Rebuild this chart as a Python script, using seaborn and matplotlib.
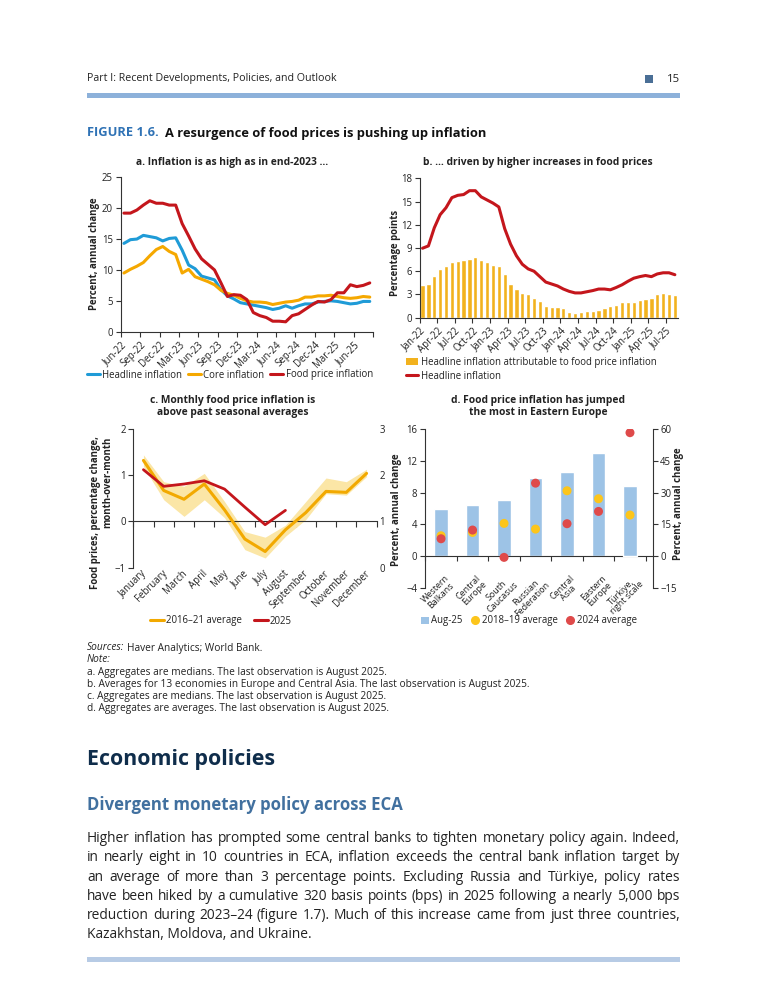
import numpy as np
import pandas as pd
import matplotlib
matplotlib.use("Agg")
import matplotlib.pyplot as plt
import matplotlib.transforms as mtrans
from matplotlib.lines import Line2D
from matplotlib.patches import Patch, Rectangle
import seaborn as sns

# ---------------- data ----------------
a_tick_labels = ["Jun-22", "Sep-22", "Dec-22", "Mar-23", "Jun-23", "Sep-23", "Dec-23",
                 "Mar-24", "Jun-24", "Sep-24", "Dec-24", "Mar-25", "Jun-25"]
a_headline = [14.3, 14.9, 15.0, 15.6, 15.4, 15.2, 14.7, 15.1, 15.2, 13.2, 10.8, 10.2, 9.0,
              8.7, 8.4, 6.8, 5.8, 5.3, 4.7, 4.5, 4.3, 4.1, 3.9, 3.6, 3.8, 4.2, 3.8, 4.2,
              4.5, 4.5, 4.8, 4.9, 5.0, 4.9, 4.7, 4.5, 4.6, 4.9, 4.9]
a_core = [9.5, 10.1, 10.6, 11.2, 12.3, 13.3, 13.8, 13.0, 12.5, 9.5, 10.1, 8.9, 8.5, 8.1,
          7.6, 6.7, 6.2, 5.9, 5.4, 5.0, 4.8, 4.8, 4.7, 4.4, 4.6, 4.8, 4.9, 5.1, 5.6, 5.6,
          5.8, 5.8, 5.9, 5.7, 5.5, 5.4, 5.5, 5.7, 5.6]
a_food = [19.2, 19.2, 19.7, 20.5, 21.2, 20.8, 20.8, 20.5, 20.5, 17.5, 15.5, 13.4, 11.8,
          10.9, 10.0, 7.9, 5.7, 6.0, 5.9, 5.2, 3.1, 2.6, 2.3, 1.7, 1.7, 1.6, 2.6, 2.9,
          3.6, 4.3, 4.9, 4.8, 5.2, 6.3, 6.3, 7.6, 7.3, 7.5, 7.9]

b_tick_labels = ["Jan-22", "Apr-22", "Jul-22", "Oct-22", "Jan-23", "Apr-23", "Jul-23",
                 "Oct-23", "Jan-24", "Apr-24", "Jul-24", "Oct-24", "Jan-25", "Apr-25", "Jul-25"]
b_food_contrib = [4.2, 4.4, 5.4, 6.3, 6.7, 7.2, 7.3, 7.45, 7.6, 7.8, 7.5, 7.2, 6.85, 6.7,
                  5.6, 4.3, 3.7, 3.2, 3.0, 2.55, 2.1, 1.5, 1.35, 1.35, 1.2, 0.75, 0.6, 0.8,
                  0.85, 0.9, 1.0, 1.3, 1.45, 1.65, 2.0, 2.0, 2.0, 2.25, 2.45, 2.6, 3.0,
                  3.15, 3.1, 2.9]
b_headline = [8.97, 9.27, 11.6, 13.3, 14.2, 15.5, 15.8, 15.9, 16.4, 16.4, 15.6, 15.2,
              14.8, 14.3, 11.5, 9.5, 8.0, 6.9, 6.3, 6.0, 5.3, 4.6, 4.35, 4.1, 3.7, 3.4,
              3.2, 3.2, 3.35, 3.5, 3.7, 3.7, 3.6, 3.9, 4.25, 4.7, 5.1, 5.3, 5.45, 5.3,
              5.65, 5.8, 5.8, 5.55]

c_months = ["January", "February", "March", "April", "May", "June", "July", "August",
            "September", "October", "November", "December"]
c_avg = [1.32, 0.67, 0.48, 0.81, 0.25, -0.38, -0.65, -0.18, 0.19, 0.65, 0.63, 1.04]
c_low = [1.19, 0.47, 0.11, 0.47, 0.08, -0.61, -0.79, -0.32, 0.04, 0.60, 0.57, 0.97]
c_high = [1.44, 0.86, 0.76, 1.04, 0.43, -0.22, -0.34, -0.08, 0.43, 0.94, 0.86, 1.13]
c_2025 = [1.12, 0.76, 0.81, 0.88, 0.70, 0.31, -0.07, 0.24]

d_regions = ["Western\nBalkans", "Central\nEurope", "South\nCaucasus", "Russian\nFederation",
             "Central\nAsia", "Eastern\nEurope", "Türkiye,\nright scale"]
d_aug25 = [5.97, 6.47, 7.1, 9.83, 10.6, 12.98, 33.3]
d_avg1819 = [2.56, 2.98, 4.12, 3.4, 8.24, 7.23, 19.4]
d_avg2024 = [2.18, 3.28, -0.17, 9.2, 4.08, 5.63, 58.4]
d_on_right = [False, False, False, False, False, False, True]

# ---------------- colors ----------------
BLUE = "#1f9bd7"
CORE = "#f5a800"
RED = "#c4161c"
BARY = "#f2b21e"
BAND = "#fbe6a6"
BARB = "#9dc3e6"
DOTY = "#fcc51b"
DOTR = "#df4a4a"
INK = "#222222"
SPINE = "#333333"

sns.set_style("ticks")
plt.rcParams["font.family"] = ["Open Sans", "DejaVu Sans"]
plt.rcParams["axes.linewidth"] = 0.8
plt.rcParams["text.color"] = INK
plt.rcParams["axes.labelcolor"] = INK
plt.rcParams["xtick.color"] = SPINE
plt.rcParams["ytick.color"] = SPINE
plt.rcParams["xtick.labelcolor"] = INK
plt.rcParams["ytick.labelcolor"] = INK

W, H = 768, 1008
fig = plt.figure(figsize=(W / 100, H / 100), dpi=100)
fig.patch.set_facecolor("white")


def fx(px):
    return px / W


def fy(py):
    return 1 - py / H


def axes_px(l, t, r, b):
    return fig.add_axes([l / W, 1 - b / H, (r - l) / W, (b - t) / H])


TICKFS = 6.9
TITLEFS = 7.35
YLABFS = 6.9


def style(ax):
    for s in ["top", "right"]:
        ax.spines[s].set_visible(False)
    for s in ["left", "bottom"]:
        ax.spines[s].set_color(SPINE)
        ax.spines[s].set_linewidth(0.8)
    ax.tick_params(labelsize=TICKFS, length=3.5, width=0.8, pad=2)
    ax.set_xlabel("")
    ax.set_ylabel("")


def rot_labels(labels):
    for lab in labels:
        lab.set_rotation(45)
        lab.set_ha("right")
        lab.set_rotation_mode("anchor")


# ================= Panel a =================
axa = axes_px(120.7, 177.3, 373, 331.7)
n_a = len(a_headline)
pos_a = np.arange(n_a) + 0.5
df_a = pd.DataFrame({
    "x": np.tile(pos_a, 3),
    "value": a_headline + a_core + a_food,
    "series": ["Headline inflation"] * n_a + ["Core inflation"] * n_a + ["Food price inflation"] * n_a,
})
sns.lineplot(data=df_a, x="x", y="value", hue="series",
             palette={"Headline inflation": BLUE, "Core inflation": CORE, "Food price inflation": RED},
             hue_order=["Headline inflation", "Core inflation", "Food price inflation"],
             linewidth=2.2, ax=axa, legend=False)
axa.set_xlim(0, 39)
axa.set_ylim(0, 25)
axa.set_yticks(range(0, 26, 5))
axa.set_xticks(np.arange(0, 40, 3))
axa.set_xticklabels(a_tick_labels + [""])
style(axa)
rot_labels(axa.get_xticklabels())
fig.text(fx(232.5), fy(162), "a. Inflation is as high as in end-2023 …", ha="center", va="center",
         fontsize=TITLEFS, fontweight="bold")
fig.text(fx(95), fy(254), "Percent, annual change", rotation=90, ha="center", va="center",
         fontsize=YLABFS, fontweight="bold")
fig.legend(handles=[Line2D([], [], color=BLUE, lw=2.2), Line2D([], [], color=CORE, lw=2.2),
                    Line2D([], [], color=RED, lw=2.2)],
           labels=["Headline inflation", "Core inflation", "Food price inflation"],
           loc="center", bbox_to_anchor=(fx(230), fy(375)), ncol=3, frameon=False,
           fontsize=TICKFS, handlelength=1.3, handletextpad=0.3, columnspacing=0.6,
           borderpad=0, borderaxespad=0)

# ================= Panel b =================
axb = axes_px(419.6, 178.3, 677.8, 317.7)
b_months = list(pd.date_range("2022-01-01", periods=len(b_food_contrib), freq="MS").strftime("%b-%y"))
df_b = pd.DataFrame({"month": b_months, "value": b_food_contrib})
sns.barplot(data=df_b, x="month", y="value", order=b_months, color=BARY, saturation=1,
            width=0.72, ax=axb)
sns.lineplot(x=np.arange(len(b_headline)), y=b_headline, color=RED, linewidth=2.2, ax=axb)
axb.set_xlim(-0.5, len(b_months) - 0.5)
axb.set_ylim(0, 18)
axb.set_yticks(range(0, 19, 3))
axb.set_xticks(np.arange(-0.5, 42, 3))
axb.set_xticklabels(b_tick_labels)
style(axb)
rot_labels(axb.get_xticklabels())
fig.text(fx(538), fy(162), "b. … driven by higher increases in food prices", ha="center", va="center",
         fontsize=TITLEFS, fontweight="bold")
fig.text(fx(395.7), fy(253), "Percentage points", rotation=90, ha="center", va="center",
         fontsize=YLABFS, fontweight="bold")
fig.legend(handles=[Patch(facecolor=BARY, edgecolor="none"), Line2D([], [], color=RED, lw=2.2)],
           labels=["Headline inflation attributable to food price inflation", "Headline inflation"],
           loc="upper left", bbox_to_anchor=(fx(406), fy(356.5)), ncol=1, frameon=False,
           fontsize=TICKFS, handlelength=1.3, handleheight=0.8, handletextpad=0.25,
           labelspacing=0.35, borderpad=0, borderaxespad=0)

# ================= Panel c =================
axc = axes_px(133.3, 429, 376.7, 567.7)
pos_c = np.arange(12) + 0.5
axc.fill_between(pos_c, c_low, c_high, color=BAND, linewidth=0, zorder=1)
sns.lineplot(x=pos_c, y=c_avg, color="#f2a900", linewidth=2.2, ax=axc, zorder=3)
sns.lineplot(x=pos_c[:len(c_2025)], y=c_2025, color=RED, linewidth=2.0, ax=axc, zorder=4)
axc.set_xlim(0, 12)
axc.set_ylim(-1, 2)
axc.set_yticks([-1, 0, 1, 2])
style(axc)
axc.spines["bottom"].set_position(("data", 0))
axc.set_xticks(np.arange(0, 13))
axc.tick_params(axis="x", labelbottom=False, length=4)
trans_c = mtrans.blended_transform_factory(axc.transData, axc.transAxes)
for i, m in enumerate(c_months):
    axc.text(i + 0.58, -0.03, m, transform=trans_c, rotation=45, ha="right", va="center",
             rotation_mode="anchor", fontsize=TICKFS)
axc2 = axc.twinx()
axc2.set_ylim(0, 3)
axc2.set_yticks([0, 1, 2, 3])
for s in axc2.spines.values():
    s.set_visible(False)
axc2.tick_params(axis="y", length=0, labelsize=TICKFS, pad=2)
fig.text(fx(233), fy(406.5), "c. Monthly food price inflation is\nabove past seasonal averages",
         ha="center", va="center", fontsize=TITLEFS, fontweight="bold", linespacing=1.2)
fig.text(fx(102), fy(513), "Food prices, percentage change,\nmonth-over-month", rotation=90,
         ha="center", va="center", multialignment="right", fontsize=YLABFS, fontweight="bold",
         linespacing=1.15)
fig.legend(handles=[Line2D([], [], color="#f2a900", lw=2.2), Line2D([], [], color=RED, lw=2.2)],
           labels=["2016–21 average", "2025"], loc="center", bbox_to_anchor=(fx(221), fy(621)),
           ncol=2, frameon=False, fontsize=TICKFS, handlelength=1.5, handletextpad=0.2,
           columnspacing=1.2, borderpad=0, borderaxespad=0)

# ================= Panel d =================
axd = axes_px(425, 429.3, 653.3, 587.7)
axd2 = axd.twinx()
df_d = pd.DataFrame({
    "region": d_regions,
    "left": [np.nan if r else v for v, r in zip(d_aug25, d_on_right)],
    "right": [v if r else np.nan for v, r in zip(d_aug25, d_on_right)],
    "y1819_left": [np.nan if r else v for v, r in zip(d_avg1819, d_on_right)],
    "y1819_right": [v if r else np.nan for v, r in zip(d_avg1819, d_on_right)],
    "y2024_left": [np.nan if r else v for v, r in zip(d_avg2024, d_on_right)],
    "y2024_right": [v if r else np.nan for v, r in zip(d_avg2024, d_on_right)],
    "pos": np.arange(len(d_regions)),
})
sns.barplot(data=df_d, x="region", y="left", order=d_regions, color=BARB, saturation=1,
            width=0.44, ax=axd)
sns.barplot(data=df_d, x="region", y="right", order=d_regions, color=BARB, saturation=1,
            width=0.44, ax=axd2)
sns.scatterplot(data=df_d, x="pos", y="y1819_left", color=DOTY, s=42, edgecolor="none", ax=axd, zorder=5)
sns.scatterplot(data=df_d, x="pos", y="y2024_left", color=DOTR, s=42, edgecolor="none", ax=axd, zorder=6)
sns.scatterplot(data=df_d, x="pos", y="y1819_right", color=DOTY, s=42, edgecolor="none", ax=axd2, zorder=5)
sns.scatterplot(data=df_d, x="pos", y="y2024_right", color=DOTR, s=42, edgecolor="none", ax=axd2, zorder=6)
axd.set_ylim(-4, 16)
axd.set_yticks(range(-4, 17, 4))
axd2.set_ylim(-15, 60)
axd2.set_yticks(range(-15, 61, 15))
style(axd)
axd.spines["bottom"].set_position(("data", 0))
axd.set_xticks(np.arange(-0.5, 7, 1))
axd.tick_params(axis="x", labelbottom=False, length=3.5)
for s in ["top", "left", "bottom"]:
    axd2.spines[s].set_visible(False)
axd2.spines["right"].set_color(SPINE)
axd2.spines["right"].set_linewidth(0.8)
axd2.tick_params(axis="y", labelsize=TICKFS, length=3.5, width=0.8, pad=1.5)
axd2.set_ylabel("")
axd2.set_xlabel("")
axd.set_xlim(-0.51, 6.74)
axd2.set_xlim(-0.51, 6.74)
trans_d = mtrans.blended_transform_factory(axd.transData, axd.transAxes)
for i, r in enumerate(d_regions):
    axd.text(i + 0.3, 0.05, r, transform=trans_d, rotation=45, ha="right", va="center",
             rotation_mode="anchor", multialignment="center", fontsize=6.5, linespacing=0.95)
fig.text(fx(538.3), fy(406.5), "d. Food price inflation has jumped\nthe most in Eastern Europe",
         ha="center", va="center", fontsize=TITLEFS, fontweight="bold", linespacing=1.2)
fig.text(fx(396.7), fy(510), "Percent, annual change", rotation=90, ha="center", va="center",
         fontsize=YLABFS, fontweight="bold")
fig.text(fx(678), fy(504), "Percent, annual change", rotation=90, ha="center", va="center",
         fontsize=YLABFS, fontweight="bold")
fig.legend(handles=[Patch(facecolor=BARB, edgecolor="none"),
                    Line2D([], [], color=DOTY, marker="o", ls="", markersize=5.5),
                    Line2D([], [], color=DOTR, marker="o", ls="", markersize=5.5)],
           labels=["Aug-25", "2018–19 average", "2024 average"], loc="center",
           bbox_to_anchor=(fx(529), fy(621)), ncol=3, frameon=False, fontsize=TICKFS,
           handlelength=0.8, handleheight=0.8, handletextpad=0.3, columnspacing=0.9,
           borderpad=0, borderaxespad=0)

# ================= page furniture =================
fig.text(fx(87), fy(79), "Part I: Recent Developments, Policies, and Outlook", ha="left",
         va="center", fontsize=7.7, color=INK)
fig.add_artist(Rectangle((fx(645), fy(83)), 8 / W, 8 / H, transform=fig.transFigure,
                         facecolor="#4a6f96", edgecolor="none"))
fig.text(fx(667), fy(79), "15", ha="left", va="center", fontsize=8.2, color=INK)
fig.add_artist(Rectangle((fx(87), fy(98)), 593 / W, 5 / H, transform=fig.transFigure,
                         facecolor="#8db1da", edgecolor="none"))
fig.add_artist(Rectangle((fx(87), fy(962)), 593 / W, 5 / H, transform=fig.transFigure,
                         facecolor="#b7cbe5", edgecolor="none"))

fig.canvas.draw()
renderer = fig.canvas.get_renderer()


def width_px(t):
    return t.get_window_extent(renderer).width


t1 = fig.text(fx(87), fy(133), "FIGURE 1.6.", ha="left", va="center", fontsize=9.3,
              fontweight="bold", color="#2f72b5")
fig.text(fx(87 + width_px(t1) + 6.5), fy(133), "A resurgence of food prices is pushing up inflation",
         ha="left", va="center", fontsize=9.3, fontweight="bold", color="#111111")

NOTEFS = 7.3
note_y = [648, 660, 672, 684, 696, 708]
ts = fig.text(fx(87), fy(note_y[0]), "Sources:", ha="left", va="center", fontsize=NOTEFS,
              style="italic")
fig.text(fx(87 + width_px(ts) + 2.5), fy(note_y[0]), "Haver Analytics; World Bank.", ha="left",
         va="center", fontsize=NOTEFS)
fig.text(fx(87), fy(note_y[1]), "Note:", ha="left", va="center", fontsize=NOTEFS, style="italic")
notes = ["a. Aggregates are medians. The last observation is August 2025.",
         "b. Averages for 13 economies in Europe and Central Asia. The last observation is August 2025.",
         "c. Aggregates are medians. The last observation is August 2025.",
         "d. Aggregates are averages. The last observation is August 2025."]
for yy, n in zip(note_y[2:], notes):
    fig.text(fx(87), fy(yy), n, ha="left", va="center", fontsize=NOTEFS)

fig.text(fx(87), fy(760), "Economic policies", ha="left", va="center", fontsize=15.4,
         fontweight="bold", color="#0f2d4b")
fig.text(fx(87), fy(805), "Divergent monetary policy across ECA", ha="left", va="center",
         fontsize=12.1, fontweight="bold", color="#41709f")

body = ["Higher inflation has prompted some central banks to tighten monetary policy again. Indeed,",
        "in nearly eight in 10 countries in ECA, inflation exceeds the central bank inflation target by",
        "an average of more than 3 percentage points. Excluding Russia and Türkiye, policy rates",
        "have been hiked by a cumulative 320 basis points (bps) in 2025 following a nearly 5,000 bps",
        "reduction during 2023–24 (figure 1.7). Much of this increase came from just three countries,",
        "Kazakhstan, Moldova, and Ukraine."]
BODYFS = 10.0
probe = [fig.text(0, 0, ln, fontsize=BODYFS) for ln in body]
maxw = max(width_px(p) for p in probe)
for p in probe:
    p.remove()
BODYFS = BODYFS * 589 / maxw
x0, x1 = 87, 680
for k, ln in enumerate(body):
    yy = 842 + 19.3 * k
    if k == len(body) - 1:
        fig.text(fx(x0), fy(yy), ln, ha="left", va="baseline", fontsize=BODYFS, color=INK)
        continue
    words = ln.split(" ")
    arts = [fig.text(0, fy(yy), w, ha="left", va="baseline", fontsize=BODYFS, color=INK)
            for w in words]
    ws = [width_px(a) for a in arts]
    gap = ((x1 - x0) - sum(ws)) / (len(words) - 1)
    x = x0
    for a, w in zip(arts, ws):
        a.set_x(fx(x))
        x += w + gap

fig.savefig("out.png", dpi=100, facecolor="white")
